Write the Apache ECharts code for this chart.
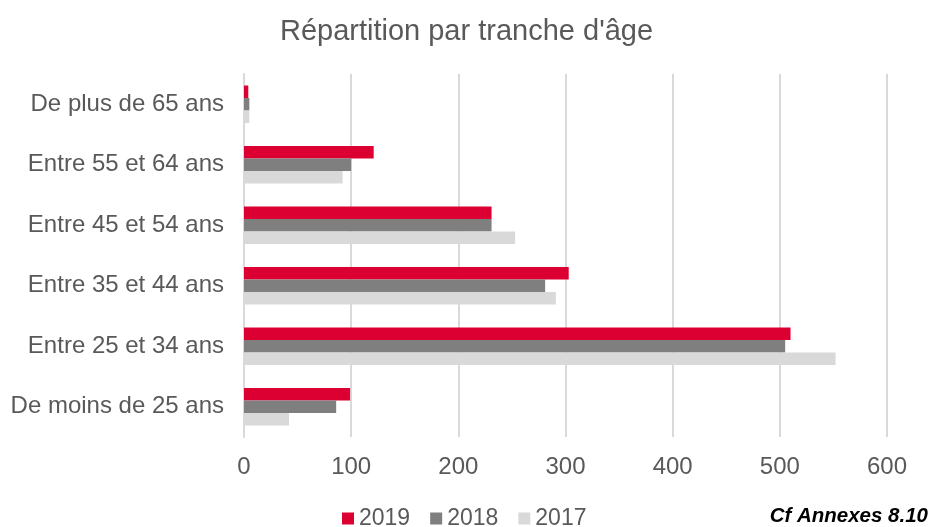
<!DOCTYPE html>
<html><head><meta charset="utf-8">
<script src="https://cdn.jsdelivr.net/npm/echarts@6/dist/echarts.min.js"></script>
<style>html,body{margin:0;padding:0;background:#fff}#c{width:933px;height:527px}</style>
</head><body><div id="c"></div>
<script>
const categories = ["De moins de 25 ans","Entre 25 et 34 ans","Entre 35 et 44 ans","Entre 45 et 54 ans","Entre 55 et 64 ans","De plus de 65 ans"];
const s2019 = [99, 510, 303, 231, 121, 4];
const s2018 = [86, 505, 281, 231, 100, 5];
const s2017 = [42, 552, 291, 253, 92, 5];
const xTicks = [0, 100, 200, 300, 400, 500, 600];

const chart = echarts.init(document.getElementById('c'));
const font = 'Liberation Sans, Arial, sans-serif';
chart.setOption({
  animation: false,
  textStyle: {fontFamily: font},
  title: {text: "Répartition par tranche d'âge", left: 'center', top: 12,
    textStyle: {fontFamily: font, fontSize: 29, fontWeight: 'normal', color: '#595959'}},
  legend: {data: ['2019','2018','2017'], top: 502, left: 337, itemWidth: 12, itemHeight: 12, itemGap: 20,
    icon: 'rect', textStyle: {fontFamily: font, fontSize: 23, color: '#595959'}},
  graphic: [{type: 'text', right: 5, top: 506, style: {text: 'Cf Annexes 8.10', fontFamily: font,
    fontSize: 20.5, fontWeight: 'bold', fontStyle: 'italic', fill: '#000'}}],
  grid: {left: 244, right: 46, top: 74, bottom: 90},
  xAxis: {type: 'value', min: xTicks[0], max: xTicks[xTicks.length-1], interval: 100,
    axisLine: {show: false}, axisTick: {show: false},
    splitLine: {lineStyle: {color: '#D9D9D9', width: 2}},
    axisLabel: {fontFamily: font, fontSize: 24, color: '#595959', margin: 18}},
  yAxis: {type: 'category', data: categories,
    axisLine: {show: true, lineStyle: {color: '#D9D9D9', width: 2}}, axisTick: {show: false},
    axisLabel: {fontFamily: font, fontSize: 24, color: '#595959', margin: 20}},
  series: [
    {name: '2019', type: 'bar', data: s2019, itemStyle: {color: '#DC0032'}, barGap: '0%', barCategoryGap: '38%'},
    {name: '2018', type: 'bar', data: s2018, itemStyle: {color: '#7F7F7F'}, barGap: '0%', barCategoryGap: '38%'},
    {name: '2017', type: 'bar', data: s2017, itemStyle: {color: '#D9D9D9'}, barGap: '0%', barCategoryGap: '38%'}
  ]
});
</script></body></html>
